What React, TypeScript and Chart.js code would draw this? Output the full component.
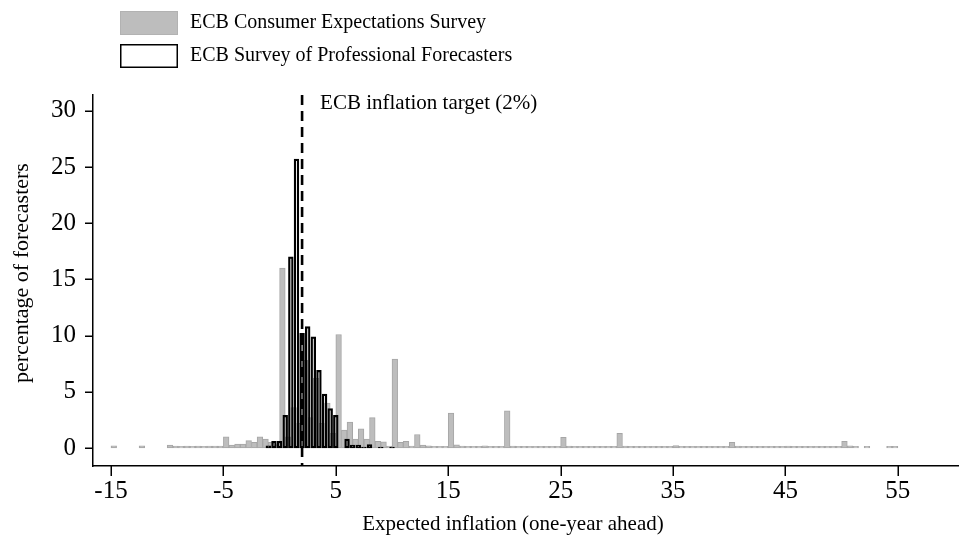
import React, { useEffect, useRef } from "react";
import { Chart, registerables } from "chart.js";

Chart.register(...registerables);

// ---------- data ----------
const binWidth = 0.5;

// ECB Consumer Expectations Survey: share per 0.5-wide bin, bins start at consumerFirstBin
const consumerFirstBin = -15;
const consumerShares: (number | null)[] = [
  // -15 .. -10.5
  0.2, null, null, null, null, 0.2, null, null, null, null,
  // -10 .. -5.5
  0.25, 0.18, 0.15, 0.18, 0.15, 0.18, 0.15, 0.18, 0.18, 0.18,
  // -5 .. -0.5
  1.0, 0.25, 0.35, 0.35, 0.65, 0.5, 1.0, 0.8, 0.5, 0.3,
  // 0 .. 4.5
  16.0, 1.0, 3.6, 2.2, 7.8, 2.7, 6.2, 2.2, 4.0, 1.3,
  // 5 .. 9.5
  10.1, 1.6, 2.3, 0.8, 1.7, 0.8, 2.7, 0.6, 0.55, 0.18,
  // 10 .. 14.5
  7.9, 0.5, 0.6, 0.18, 1.2, 0.26, 0.2, 0.15, 0.15, 0.15,
  // 15 .. 19.5
  3.1, 0.28, 0.18, 0.15, 0.15, 0.15, 0.2, 0.15, 0.15, 0.15,
  // 20 .. 24.5
  3.3, 0.18, 0.15, 0.15, 0.15, 0.15, 0.15, 0.15, 0.15, 0.15,
  // 25 .. 29.5
  0.95, 0.18, 0.15, 0.15, 0.15, 0.15, 0.15, 0.15, 0.15, 0.15,
  // 30 .. 34.5
  1.3, 0.18, 0.15, 0.15, 0.15, 0.15, 0.15, 0.15, 0.15, 0.15,
  // 35 .. 39.5
  0.22, 0.15, 0.15, 0.15, 0.15, 0.15, 0.15, 0.15, 0.15, 0.15,
  // 40 .. 44.5
  0.5, 0.18, 0.15, 0.15, 0.15, 0.15, 0.15, 0.15, 0.15, 0.15,
  // 45 .. 49.5
  0.18, 0.15, 0.15, 0.15, 0.15, 0.15, 0.15, 0.15, 0.15, 0.15,
  // 50 .. 54.5
  0.6, 0.2, 0.15, null, 0.15, null, null, null, 0.15, 0.15,
];

// ECB Survey of Professional Forecasters: share per 0.5-wide bin centred on spfFirstBin + i*0.5
const spfFirstBin = -1;
const spfShares: (number | null)[] = [
  0.2, 0.6, 0.6, 2.9, 17.0, 25.7, 10.2, 10.8, 9.9, 6.9, 4.8, 3.5, 2.9, null,
  0.8, 0.25, 0.25, 0.08, 0.3, null, 0.08, null, 0.08,
];

const xTicks = [-15, -5, 5, 15, 25, 35, 45, 55];
const yTicks = [0, 5, 10, 15, 20, 25, 30];
const inflationTarget = 2;

const consumerLabel = "ECB Consumer Expectations Survey";
const spfLabel = "ECB Survey of Professional Forecasters";
const targetLabel = "ECB inflation target (2%)";
const xTitle = "Expected inflation (one-year ahead)";
const yTitle = "percentage of forecasters";

// ---------- styles ----------
const FONT = '"Liberation Serif", "Times New Roman", serif';
const GRAY_FILL = "#bdbdbd";
const GRAY_EDGE = "#a6a6a6";
const X_TICK_LEN = 10;
const Y_TICK_LEN = 8;

export default function App() {
  const ref = useRef<HTMLCanvasElement | null>(null);

  useEffect(() => {
    const canvas = ref.current;
    if (!canvas) return;

    const consumerData = consumerShares.map((v, i) => ({
      x: consumerFirstBin + i * binWidth + binWidth / 2,
      y: v,
    }));
    const spfData = spfShares.map((v, i) => ({
      x: spfFirstBin + i * binWidth,
      y: v,
    }));

    const overlay = {
      id: "overlay",
      afterDatasetsDraw(chart: any) {
        const { ctx, chartArea, scales } = chart;
        const x = scales.x.getPixelForValue(inflationTarget);
        ctx.save();
        ctx.strokeStyle = "#000";
        ctx.lineWidth = 2.6;
        ctx.setLineDash([10, 6]);
        ctx.beginPath();
        ctx.moveTo(x, chartArea.top);
        ctx.lineTo(x, chartArea.bottom);
        ctx.stroke();
        ctx.restore();
      },
      afterDraw(chart: any) {
        const { ctx, chartArea, scales } = chart;
        ctx.save();

        // tick marks
        ctx.strokeStyle = "#000";
        ctx.lineWidth = 1.5;
        ctx.setLineDash([]);
        ctx.beginPath();
        for (const t of xTicks) {
          const px = Math.round(scales.x.getPixelForValue(t)) + 0.25;
          ctx.moveTo(px, chartArea.bottom);
          ctx.lineTo(px, chartArea.bottom + X_TICK_LEN);
        }
        for (const t of yTicks) {
          const py = Math.round(scales.y.getPixelForValue(t)) + 0.25;
          ctx.moveTo(chartArea.left, py);
          ctx.lineTo(chartArea.left - Y_TICK_LEN, py);
        }
        ctx.stroke();

        ctx.fillStyle = "#000";
        ctx.textBaseline = "middle";

        // annotation next to the target line
        const x = scales.x.getPixelForValue(inflationTarget);
        ctx.font = `21px ${FONT}`;
        ctx.textAlign = "left";
        ctx.fillText(targetLabel, x + 18, chartArea.top + 8);

        // axis titles
        ctx.font = `21px ${FONT}`;
        ctx.textAlign = "center";
        ctx.fillText(xTitle, 513, 524);
        ctx.save();
        ctx.translate(22, 273);
        ctx.rotate(-Math.PI / 2);
        ctx.font = `22px ${FONT}`;
        ctx.fillText(yTitle, 0, 0);
        ctx.restore();

        // legend
        ctx.fillStyle = GRAY_FILL;
        ctx.fillRect(120, 11, 58, 24);
        ctx.strokeStyle = "#b2b2b2";
        ctx.lineWidth = 1;
        ctx.strokeRect(120.5, 11.5, 57, 23);

        ctx.fillStyle = "#fff";
        ctx.fillRect(120, 44, 58, 24);
        ctx.strokeStyle = "#000";
        ctx.lineWidth = 1.5;
        ctx.strokeRect(120.75, 44.75, 56.5, 22.5);

        ctx.fillStyle = "#000";
        ctx.textAlign = "left";
        ctx.font = `20px ${FONT}`;
        ctx.fillText(consumerLabel, 190, 23);
        ctx.fillText(spfLabel, 190, 56);
        ctx.restore();
      },
    };

    const chart = new Chart(canvas, {
      type: "bar",
      data: {
        datasets: [
          {
            label: spfLabel,
            data: spfData as any,
            backgroundColor: "rgba(255,255,255,0)",
            borderColor: "#000",
            borderWidth: 1.6,
            borderSkipped: false,
            stack: "hist",
            order: 0,
          },
          {
            label: consumerLabel,
            data: consumerData as any,
            backgroundColor: GRAY_FILL,
            borderColor: GRAY_EDGE,
            borderWidth: 1,
            borderSkipped: false,
            stack: "hist",
            order: 1,
          },
        ],
      },
      options: {
        responsive: false,
        animation: false,
        devicePixelRatio: 1,
        events: [],
        layout: { padding: { left: 0, right: 5, top: 95, bottom: 0 } },
        plugins: {
          legend: { display: false },
          tooltip: { enabled: false },
          title: { display: false },
        },
        scales: {
          x: {
            type: "linear",
            min: -16.6,
            max: 60.35,
            offset: false,
            afterBuildTicks: (s: any) => {
              s.ticks = xTicks.map((value) => ({ value }));
            },
            afterFit: (s: any) => {
              s.height = 80;
            },
            ticks: {
              autoSkip: false,
              maxRotation: 0,
              padding: 0,
              color: "#000",
              font: { family: FONT, size: 25, lineHeight: 1.2 },
              callback: (v: any) => String(v),
            },
            grid: {
              display: false,
              offset: false,
              drawOnChartArea: false,
              drawTicks: true,
              tickLength: X_TICK_LEN,
            },
            border: { display: true, color: "#000", width: 1.5 },
            title: { display: false },
          },
          y: {
            type: "linear",
            min: -1.6,
            max: 31.4,
            stacked: false,
            afterBuildTicks: (s: any) => {
              s.ticks = yTicks.map((value) => ({ value }));
            },
            afterFit: (s: any) => {
              s.width = 93;
            },
            ticks: {
              autoSkip: false,
              padding: 9,
              color: "#000",
              font: { family: FONT, size: 25, lineHeight: 1.2 },
              callback: (v: any) => String(v),
            },
            grid: {
              display: false,
              offset: false,
              drawOnChartArea: false,
              drawTicks: true,
              tickLength: Y_TICK_LEN,
            },
            border: { display: true, color: "#000", width: 1.5 },
            title: { display: false },
          },
        },
      },
      plugins: [overlay],
    });

    // bar widths = one bin in pixels
    const xs: any = chart.scales.x;
    const binPx = xs.getPixelForValue(binWidth) - xs.getPixelForValue(0);
    (chart.data.datasets[0] as any).barThickness = binPx * 0.85;
    (chart.data.datasets[1] as any).barThickness = binPx;
    chart.update();

    return () => chart.destroy();
  }, []);

  return (
    <div
      style={{
        position: "fixed",
        left: 0,
        top: 0,
        width: 963,
        height: 546,
        background: "#fff",
      }}
    >
      <canvas ref={ref} width={963} height={546} style={{ display: "block" }} />
    </div>
  );
}
